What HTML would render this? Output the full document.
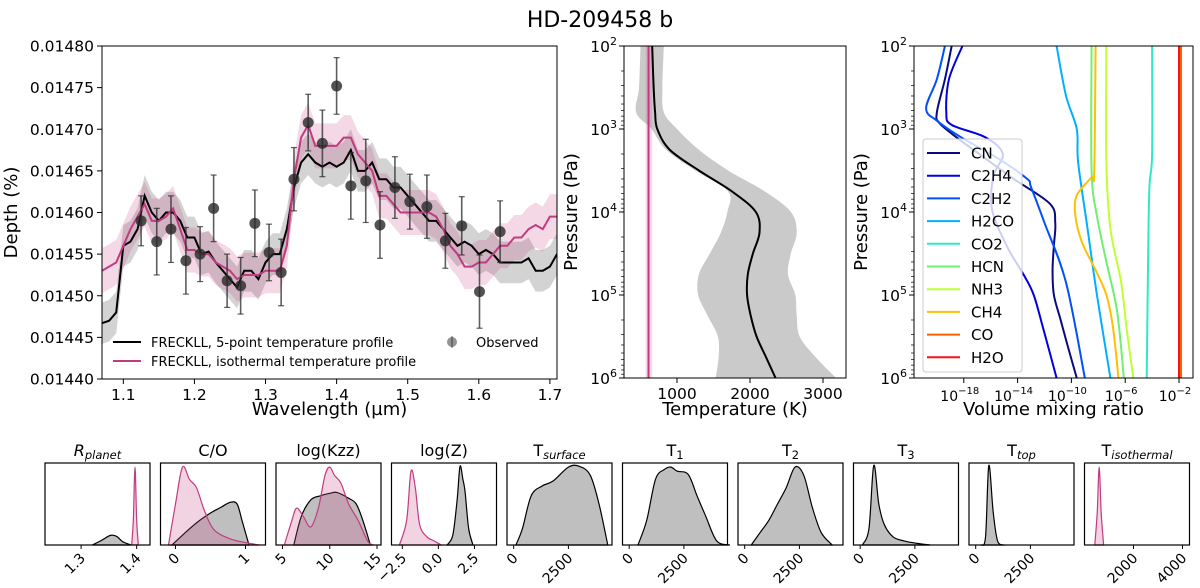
<!DOCTYPE html>
<html><head><meta charset="utf-8">
<style>
html,body{margin:0;padding:0;background:#fff;}
svg{display:block;font-family:"DejaVu Sans","Liberation Sans",sans-serif;}
</style></head>
<body>
<svg id="fig" width="1200" height="588" viewBox="0 0 1200 588" xmlns="http://www.w3.org/2000/svg">
<text x="600" y="27" text-anchor="middle" font-size="22">HD-209458 b</text>
</svg>
<script>
// ---------- Spectrum data ----------
const wl = [1.07,1.08,1.09,1.10,1.11,1.12,1.13,1.14,1.15,1.16,1.17,1.18,1.19,1.20,1.21,1.22,1.23,1.24,1.25,1.26,1.27,1.28,1.29,1.30,1.31,1.32,1.33,1.34,1.35,1.36,1.37,1.38,1.39,1.40,1.41,1.42,1.43,1.44,1.45,1.46,1.47,1.48,1.49,1.50,1.51,1.52,1.53,1.54,1.55,1.56,1.57,1.58,1.59,1.60,1.61,1.62,1.63,1.64,1.65,1.66,1.67,1.68,1.69,1.70,1.71];
const depth5pt = [0.014467,0.01447,0.01448,0.01456,0.014565,0.01458,0.01462,0.01460,0.01459,0.01460,0.01460,0.01459,0.01457,0.01457,0.01455,0.014553,0.01454,0.01453,0.01452,0.01451,0.01453,0.01453,0.01452,0.01454,0.01455,0.01455,0.01458,0.01463,0.01466,0.01467,0.01466,0.014655,0.01466,0.014655,0.01466,0.014675,0.01465,0.01465,0.01466,0.01464,0.01464,0.01463,0.01463,0.01462,0.01461,0.0146,0.01459,0.01459,0.01458,0.01457,0.01456,0.014565,0.01456,0.01455,0.014555,0.01455,0.01454,0.01454,0.01454,0.01454,0.014545,0.01453,0.01453,0.014535,0.01455];
const depthIso = [0.01453,0.014535,0.01454,0.01456,0.01458,0.014595,0.01461,0.01459,0.01459,0.014595,0.014605,0.01458,0.014555,0.014555,0.01455,0.01455,0.01454,0.014535,0.01453,0.01452,0.014525,0.014525,0.014525,0.01453,0.01453,0.01453,0.01456,0.01464,0.01469,0.014705,0.01468,0.01468,0.01468,0.01468,0.01469,0.01469,0.01467,0.01466,0.01465,0.01462,0.01462,0.01461,0.0146,0.0146,0.0146,0.0146,0.0146,0.014595,0.01458,0.01456,0.01455,0.014535,0.014535,0.01454,0.01454,0.01455,0.01456,0.01456,0.01457,0.01457,0.01458,0.014585,0.01458,0.014595,0.014595];
const bandHalf5pt = 0.000025;
const bandHalfIso = 0.000027;
const obsWl = [1.125,1.147,1.167,1.188,1.208,1.227,1.246,1.265,1.285,1.305,1.322,1.340,1.360,1.380,1.400,1.420,1.441,1.461,1.482,1.503,1.527,1.553,1.576,1.601,1.630];
const obsDepth = [0.01459,0.014565,0.01458,0.014542,0.01455,0.014605,0.014518,0.014512,0.014587,0.014552,0.014528,0.01464,0.014708,0.014683,0.014752,0.014632,0.014638,0.014585,0.01463,0.014613,0.014607,0.014566,0.014584,0.014505,0.014577];
const obsErr = [0.00003,0.00004,0.00004,0.00004,0.000033,0.00004,0.000032,0.000034,0.00004,0.000034,0.00004,0.000038,0.000034,0.00004,0.000034,0.00004,0.00005,0.00004,0.000037,0.000033,0.000038,0.000033,0.000035,0.000044,0.000037];
const depthTicks = ["0.01440","0.01445","0.01450","0.01455","0.01460","0.01465","0.01470","0.01475","0.01480"];
const wlTicks = ["1.1","1.2","1.3","1.4","1.5","1.6","1.7"];

// ---------- TP profile data ----------
const tpLogP = [2,2.5,2.8,3,3.25,3.5,3.75,4,4.25,4.5,4.75,5,5.25,5.5,5.75,6];
const tpMean = [660,680,700,730,900,1300,1750,2080,2130,2040,1970,1960,2010,2090,2220,2350];
const tpLow  = [500,480,440,650,850,1250,1700,1690,1600,1450,1300,1290,1420,1560,1570,1530];
const tpHigh = [820,800,820,1000,1300,1700,2200,2560,2640,2560,2520,2620,2640,2680,2900,3180];
const tIso = 610, tIsoLow = 570, tIsoHigh = 660;
const tempTicks = ["1000","2000","3000"];

// ---------- Chemistry data (log10 VMR) ----------
const species = ["CN","C2H4","C2H2","H2CO","CO2","HCN","NH3","CH4","CO","H2O"];
const speciesColor = ["#0a0a80","#0000e0","#0050ff","#00b0ff","#30e8c8","#70f070","#c0ff30","#ffc000","#ff6000","#ff1010"];
const cnLogP = [2,2.4,2.8,2.93,3.13,3.33,3.6,3.9,4.13,4.4,4.7,5.0,5.3,5.6,6.0];
const cnVmr  = [-18.9,-19.4,-20.0,-19.8,-18.3,-16.6,-14.3,-11.6,-11.2,-11.3,-11.4,-11.3,-10.8,-10.3,-9.6];
const c2h4LogP = [2,2.4,2.8,2.95,3.1,3.3,3.57,3.97,4.41,4.77,5.0,5.4,6.0];
const c2h4Vmr  = [-18.1,-19.1,-19.3,-18.9,-16.4,-15.1,-15.8,-15.9,-14.8,-13.5,-12.8,-12.1,-11.1];
const c2h2LogP = [2,2.4,2.75,2.9,3.1,3.35,3.6,3.7,4.13,4.85,6.0];
const c2h2Vmr  = [-19.4,-20.0,-20.8,-20.0,-18.2,-15.5,-13.3,-13.0,-12.0,-10.4,-9.0];
const h2coLogP = [2,2.6,3,3.4,4.2,5,6];
const h2coVmr  = [-11.1,-10.4,-9.6,-9.5,-8.8,-8.1,-7.1];
const co2LogP = [2,3.3,3.7,4.6,6];
const co2Vmr  = [-4.0,-4.0,-4.2,-4.3,-4.4];
const hcnLogP = [2,3.5,4.05,4.6,5.2,6];
const hcnVmr  = [-8.5,-8.5,-8.1,-7.4,-6.6,-6.1];
const nh3LogP = [2,3.4,4.2,4.85,5.4,6];
const nh3Vmr  = [-7.4,-7.4,-7.1,-6.3,-5.9,-5.4];
const ch4LogP = [2,3.5,3.58,3.8,4.05,4.37,4.7,5,5.4,6];
const ch4Vmr  = [-8.2,-8.3,-8.5,-9.6,-9.7,-9.2,-8.2,-7.4,-6.9,-6.5];
const coLogP = [2,6];
const coVmr  = [-1.85,-1.85];
const h2oLogP = [2,6];
const h2oVmr  = [-2.0,-2.0];
const vmrTickExp = ["-18","-14","-10","-6","-2"];
const pTickExp = ["2","3","4","5","6"];

// ---------- Posterior KDE data ----------
const postTitles = ["R","C/O","log(Kzz)","log(Z)","T","T","T","T","T","T"];
const postSubs = ["planet","","","","surface","1","2","3","top","isothermal"];
const postRange = [[1.235,1.424],[-0.214,1.286],[4.32,15.42],[-3.25,4.03],[-306,4493],[-306,4493],[-306,4493],[-306,4493],[-306,4493],[0,4286]];
const postTickVals = [[1.3,1.4],[0,1],[5,10,15],[-2.5,0,2.5],[0,2500],[0,2500],[0,2500],[0,2500],[0,2500],[2000,4000]];
const postTickLbl = [["1.3","1.4"],["0","1"],["5","10","15"],["\u22122.5","0.0","2.5"],["0","2500"],["0","2500"],["0","2500"],["0","2500"],["0","2500"],["2000","4000"]];
const greyX = [
 [1.32,1.335,1.35,1.357,1.365,1.375,1.39],
 [-0.05,0.1,0.3,0.5,0.65,0.78,0.88,0.95,1.05],
 [6.2,7,8,9,10,10.8,12,12.8,13.5,14.3],
 [0.6,1.0,1.3,1.5,1.7,1.85,2.1,2.4],
 [100,400,800,1300,1800,2500,3000,3500,3900,4300],
 [400,800,1200,1600,1900,2200,2700,3100,3500,4000,4600],
 [300,700,1100,1500,1900,2300,2700,3100,3500,4000],
 [100,400,620,850,1100,1500,2000,2600,3200],
 [250,450,600,800,1000,1300],
 []];
const greyY = [
 [0,0.05,0.11,0.12,0.1,0.04,0],
 [0,0.12,0.27,0.39,0.46,0.52,0.5,0.3,0],
 [0,0.35,0.55,0.6,0.63,0.64,0.57,0.5,0.3,0],
 [0,0.12,0.55,0.96,0.8,0.65,0.2,0],
 [0,0.2,0.6,0.72,0.78,0.95,0.96,0.85,0.5,0],
 [0,0.3,0.8,0.92,0.95,0.9,0.86,0.6,0.35,0.05,0],
 [0,0.15,0.3,0.5,0.7,0.95,0.85,0.45,0.15,0],
 [0,0.2,0.97,0.5,0.25,0.1,0.05,0.02,0],
 [0,0.1,0.97,0.4,0.05,0],
 []];
const pinkX = [
 [1.391,1.394,1.397,1.400,1.403],
 [-0.1,0.0,0.1,0.2,0.3,0.4,0.5,0.6,0.8,1.0,1.2],
 [5.2,6,6.5,7.2,8,8.8,9.5,10,10.5,11.2,12,13,14,14.6],
 [-2.7,-2.2,-1.9,-1.6,-1.3,-0.8,-0.3,0.2],
 [],[],[],[],[],
 [420,520,600,680,780]];
const pinkY = [
 [0,0.3,0.95,0.3,0],
 [0,0.5,0.95,0.8,0.7,0.45,0.25,0.15,0.07,0.03,0],
 [0,0.3,0.45,0.35,0.22,0.45,0.85,0.95,0.85,0.75,0.5,0.3,0.05,0],
 [0,0.3,0.9,0.7,0.25,0.1,0.05,0],
 [],[],[],[],[],
 [0,0.4,0.95,0.4,0]];

// ---------- helpers ----------
const NS = "http://www.w3.org/2000/svg";
const svg = document.getElementById("fig");
function mk(tag, attrs, parent){
  const e = document.createElementNS(NS, tag);
  for (const k in attrs) e.setAttribute(k, attrs[k]);
  (parent || svg).appendChild(e);
  return e;
}
function smooth(pts){
  if (pts.length < 3) return "M" + pts.map(p=>p[0].toFixed(2)+","+p[1].toFixed(2)).join("L");
  let d = "M" + pts[0][0].toFixed(2) + "," + pts[0][1].toFixed(2);
  for (let i=0;i<pts.length-1;i++){
    const p0 = pts[i-1]||pts[i], p1=pts[i], p2=pts[i+1], p3=pts[i+2]||pts[i+1];
    const c1=[p1[0]+(p2[0]-p0[0])/6, p1[1]+(p2[1]-p0[1])/6];
    const c2=[p2[0]-(p3[0]-p1[0])/6, p2[1]-(p3[1]-p1[1])/6];
    d += "C"+c1[0].toFixed(2)+","+c1[1].toFixed(2)+" "+c2[0].toFixed(2)+","+c2[1].toFixed(2)+" "+p2[0].toFixed(2)+","+p2[1].toFixed(2);
  }
  return d;
}
function poly(pts){ return "M" + pts.map(p=>p[0].toFixed(2)+","+p[1].toFixed(2)).join("L"); }

// ================= Main spectrum panel =================
const M = {l:102, r:557, t:46, b:379, x0:1.07, x1:1.71, y0:0.0144, y1:0.0148};
const px = x => M.l + (x - M.x0)/(M.x1 - M.x0)*(M.r - M.l);
const py = v => M.b - (v - M.y0)/(M.y1 - M.y0)*(M.b - M.t);
mk("clipPath",{id:"clipMain"}); mk("rect",{x:M.l,y:M.t,width:M.r-M.l,height:M.b-M.t}, svg.lastChild);
const gMain = mk("g",{"clip-path":"url(#clipMain)"});


function band(vals, half){
  const up = wl.map((w,i)=>[px(w), py(vals[i]+half)]);
  const dn = wl.map((w,i)=>[px(w), py(vals[i]-half)]).reverse();
  return poly(up.concat(dn))+"Z";
}
let e;
e = mk("path",{d:band(depth5pt,bandHalf5pt), fill:"rgba(128,128,128,0.35)", stroke:"none"}, gMain);


e = mk("path",{d:band(depthIso,bandHalfIso), fill:"rgba(200,60,130,0.2)", stroke:"none"}, gMain);


e = mk("path",{d:poly(wl.map((w,i)=>[px(w),py(depth5pt[i])])), fill:"none", stroke:"#000", "stroke-width":2}, gMain);


e = mk("path",{d:poly(wl.map((w,i)=>[px(w),py(depthIso[i])])), fill:"none", stroke:"#c13b80", "stroke-width":2}, gMain);


obsWl.forEach((w,i)=>{
  const g = mk("g",{}, gMain);
  
  
  mk("line",{x1:px(w),x2:px(w),y1:py(obsDepth[i]-obsErr[i]),y2:py(obsDepth[i]+obsErr[i]),stroke:"rgba(40,40,40,0.75)","stroke-width":1.6},g);
  mk("line",{x1:px(w)-3,x2:px(w)+3,y1:py(obsDepth[i]-obsErr[i]),y2:py(obsDepth[i]-obsErr[i]),stroke:"rgba(40,40,40,0.75)","stroke-width":1.2},g);
  mk("line",{x1:px(w)-3,x2:px(w)+3,y1:py(obsDepth[i]+obsErr[i]),y2:py(obsDepth[i]+obsErr[i]),stroke:"rgba(40,40,40,0.75)","stroke-width":1.2},g);
  mk("circle",{cx:px(w),cy:py(obsDepth[i]),r:5.5,fill:"rgba(40,40,40,0.8)"},g);
});
e = mk("rect",{x:M.l,y:M.t,width:M.r-M.l,height:M.b-M.t,fill:"none",stroke:"#000","stroke-width":1});


depthTicks.forEach(t=>{
  const y = py(parseFloat(t));
  mk("line",{x1:M.l-5,x2:M.l,y1:y,y2:y,stroke:"#000"});
  e = mk("text",{x:M.l-8,y:y+5.5,"text-anchor":"end","font-size":15.5});
  e.textContent = t;
  
  
});
wlTicks.forEach(t=>{
  const x = px(parseFloat(t));
  mk("line",{x1:x,x2:x,y1:M.b,y2:M.b+5,stroke:"#000"});
  e = mk("text",{x:x,y:M.b+21,"text-anchor":"middle","font-size":15.5});
  e.textContent = t;
  
  
});
e = mk("text",{x:(M.l+M.r)/2,y:415,"text-anchor":"middle","font-size":18});
e.textContent = "Wavelength (\u00b5m)";


e = mk("text",{x:0,y:0,"text-anchor":"middle","font-size":18,transform:`translate(17,${(M.t+M.b)/2}) rotate(-90)`});
e.textContent = "Depth (%)";


// legend
const lg = mk("g",{});


mk("line",{x1:113,x2:141,y1:342,y2:342,stroke:"#000","stroke-width":2},lg);
e = mk("text",{x:151,y:347,"font-size":13},lg); e.textContent="FRECKLL, 5-point temperature profile";


mk("line",{x1:113,x2:141,y1:361,y2:361,stroke:"#c13b80","stroke-width":2},lg);
e = mk("text",{x:151,y:366,"font-size":13},lg); e.textContent="FRECKLL, isothermal temperature profile";


mk("line",{x1:452,x2:452,y1:336,y2:348,stroke:"rgba(40,40,40,0.5)","stroke-width":1.5},lg);
mk("circle",{cx:452,cy:342,r:5,fill:"rgba(40,40,40,0.5)"},lg);
e = mk("text",{x:476,y:347,"font-size":13},lg); e.textContent="Observed";



// ================= log-pressure axis helper =================
function logPAxis(P, title){
  const ly = l => P.t + (l-2)/4*(P.b-P.t);
  pTickExp.forEach(s=>{
    const y = ly(parseFloat(s));
    mk("line",{x1:P.l-5,x2:P.l,y1:y,y2:y,stroke:"#000"});
    e = mk("text",{x:P.l-7,y:y+6,"text-anchor":"end","font-size":15.5});
    e.innerHTML = `10<tspan font-size="11" dy="-7">${s}</tspan>`;
    
    
    if (s !== "6") for (let k=2;k<10;k++){
      const yy = ly(parseFloat(s)+Math.log10(k));
      mk("line",{x1:P.l-3,x2:P.l,y1:yy,y2:yy,stroke:"#000","stroke-width":0.7});
    }
  });
  e = mk("text",{x:0,y:0,"text-anchor":"middle","font-size":18,transform:`translate(${P.l-47},${(P.t+P.b)/2}) rotate(-90)`});
  e.textContent = "Pressure (Pa)";
  
  
  e = mk("text",{x:(P.l+P.r)/2,y:415,"text-anchor":"middle","font-size":18});
  e.textContent = title;
  
  
  return ly;
}

// ================= TP panel =================
const T = {l:624, r:846, t:46, b:378, x0:274, x1:3315};
const tx = v => T.l + (v-T.x0)/(T.x1-T.x0)*(T.r-T.l);
const tly = logPAxis(T, "Temperature (K)");
mk("clipPath",{id:"clipT"}); mk("rect",{x:T.l,y:T.t,width:T.r-T.l,height:T.b-T.t}, svg.lastChild);
const gT = mk("g",{"clip-path":"url(#clipT)"});


{
  const up = tpLogP.map((l,i)=>[tx(tpHigh[i]),tly(l)]);
  const dn = tpLogP.map((l,i)=>[tx(tpLow[i]),tly(l)]).reverse();
  e = mk("path",{d:smooth(up)+smooth(dn).replace("M","L")+"Z",fill:"rgba(150,150,150,0.5)"},gT);
  
  
  e = mk("rect",{x:tx(tIsoLow),y:T.t,width:tx(tIsoHigh)-tx(tIsoLow),height:T.b-T.t,fill:"rgba(220,100,160,0.25)"},gT);
  
  
  e = mk("line",{x1:tx(tIso),x2:tx(tIso),y1:T.t,y2:T.b,stroke:"#c13b80","stroke-width":2},gT);
  
  
  e = mk("path",{d:smooth(tpLogP.map((l,i)=>[tx(tpMean[i]),tly(l)])),fill:"none",stroke:"#000","stroke-width":2},gT);
  
  
}
e = mk("rect",{x:T.l,y:T.t,width:T.r-T.l,height:T.b-T.t,fill:"none",stroke:"#000"});


tempTicks.forEach(t=>{
  const x = tx(parseFloat(t));
  mk("line",{x1:x,x2:x,y1:T.b,y2:T.b+5,stroke:"#000"});
  e = mk("text",{x:x,y:T.b+21,"text-anchor":"middle","font-size":15.5}); e.textContent=t;
  
  
});

// ================= Chemistry panel =================
const C = {l:914, r:1193, t:46, b:378, x0:-21.7, x1:-0.96};
const cx = v => C.l + (v-C.x0)/(C.x1-C.x0)*(C.r-C.l);
const cly = logPAxis(C, "Volume mixing ratio");
mk("clipPath",{id:"clipC"}); mk("rect",{x:C.l,y:C.t,width:C.r-C.l,height:C.b-C.t}, svg.lastChild);
const gC = mk("g",{"clip-path":"url(#clipC)"});


const spLogP = [cnLogP,c2h4LogP,c2h2LogP,h2coLogP,co2LogP,hcnLogP,nh3LogP,ch4LogP,coLogP,h2oLogP];
const spVmr = [cnVmr,c2h4Vmr,c2h2Vmr,h2coVmr,co2Vmr,hcnVmr,nh3Vmr,ch4Vmr,coVmr,h2oVmr];
species.forEach((s,i)=>{
  e = mk("path",{d:smooth(spLogP[i].map((l,j)=>[cx(spVmr[i][j]),cly(l)])),fill:"none",stroke:speciesColor[i],"stroke-width":2},gC);
  
  
});
e = mk("rect",{x:C.l,y:C.t,width:C.r-C.l,height:C.b-C.t,fill:"none",stroke:"#000"});


vmrTickExp.forEach(s=>{
  const x = cx(parseFloat(s));
  mk("line",{x1:x,x2:x,y1:C.b,y2:C.b+5,stroke:"#000"});
  e = mk("text",{x:x-4,y:C.b+23,"text-anchor":"middle","font-size":14});
  e.innerHTML = `10<tspan font-size="10" dy="-7">\u2212${s.slice(1)}</tspan>`;
  
  
});
const leg = mk("g",{});


mk("rect",{x:923,y:139,width:99,height:233,rx:3,fill:"rgba(255,255,255,0.8)",stroke:"#ccc"},leg);
species.forEach((s,i)=>{
  const y = 153 + i*22.7;
  mk("line",{x1:927,x2:960,y1:y,y2:y,stroke:speciesColor[i],"stroke-width":2},leg);
  e = mk("text",{x:971,y:y+5.5,"font-size":15},leg); e.textContent = s;
  
  
});

// ================= Posterior panels =================
postTitles.forEach((title,i)=>{
  const P = {l:45+i*115.5, w:105, t:463, b:545};
  const r = postRange[i];
  const kx = v => P.l + (v-r[0])/(r[1]-r[0])*P.w;
  const ky = v => P.b - v*(P.b-P.t);
  const g = mk("g",{});
  
  
  if (greyX[i].length){
    const pts = greyX[i].map((x,j)=>[kx(x),ky(greyY[i][j])]);
    e = mk("path",{d:smooth(pts)+"Z",fill:"rgba(128,128,128,0.5)",stroke:"#000","stroke-width":1.2},g);
    
    
  }
  if (pinkX[i].length){
    const pts = pinkX[i].map((x,j)=>[kx(x),ky(pinkY[i][j])]);
    e = mk("path",{d:smooth(pts)+"Z",fill:"rgba(204,80,140,0.25)",stroke:"#c13b80","stroke-width":1.2},g);
    
    
  }
  mk("rect",{x:P.l,y:P.t,width:P.w,height:P.b-P.t,fill:"none",stroke:"#000","stroke-width":1.2},g);
  postTickVals[i].forEach((v,j)=>{
    const x = kx(v);
    mk("line",{x1:x,x2:x,y1:P.b,y2:P.b+4,stroke:"#000"},g);
    e = mk("text",{x:0,y:0,"text-anchor":"end","font-size":14,transform:`translate(${x+5},${P.b+14}) rotate(-45)`},g);
    e.textContent = postTickLbl[i][j];
    
    
  });
  e = mk("text",{x:P.l+P.w/2,y:456,"text-anchor":"middle","font-size":16},g);
  const italic = (i===0||i===4||i===8||i===9);
  e.innerHTML = (i===0? '<tspan font-style="italic">R</tspan>' : title) +
    (postSubs[i] ? `<tspan font-size="11.5" dy="3" ${italic?'font-style="italic"':''}>${postSubs[i]}</tspan>` : "");
  
  
});
</script>
</body></html>
